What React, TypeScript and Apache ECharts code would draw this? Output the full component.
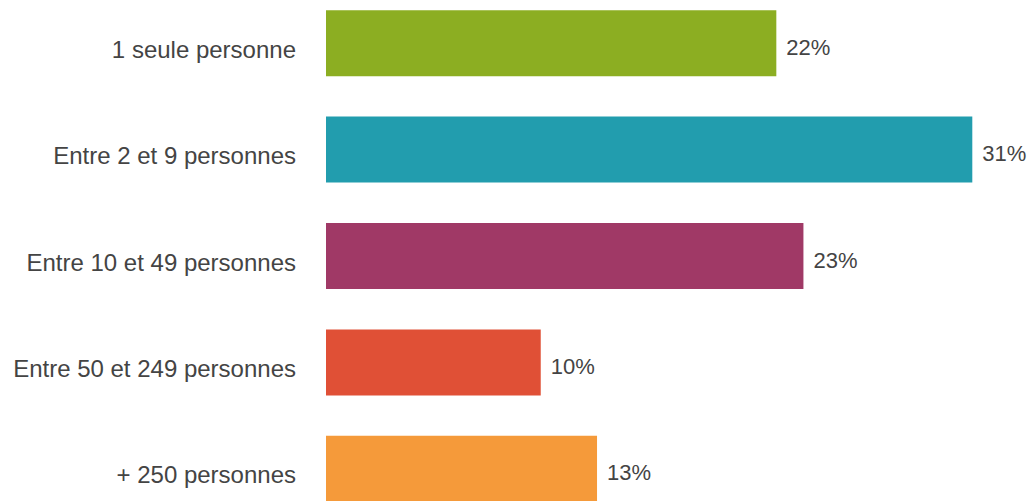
import React, { useEffect, useRef } from "react";
import * as echarts from "echarts";

const categories = [
  "1 seule personne",
  "Entre 2 et 9 personnes",
  "Entre 10 et 49 personnes",
  "Entre 50 et 249 personnes",
  "+ 250 personnes",
];
const values = [21.6, 31.0, 22.9, 10.3, 13.0];
const colors = ["#8cae22", "#229dae", "#a03966", "#e05036", "#f59a3a"];

const font = "Liberation Sans, Arial, sans-serif";

export default function App() {
  const ref = useRef<HTMLDivElement>(null);
  useEffect(() => {
    const chart = echarts.init(ref.current!, undefined, { renderer: "svg" });
    chart.setOption({
      animation: false,
      grid: { left: 326, width: 688, top: 0, height: 532, containLabel: false },
      xAxis: { type: "value", min: 0, max: 33, show: false },
      yAxis: {
        type: "category",
        data: categories,
        inverse: true,
        axisLine: { show: false },
        axisTick: { show: false },
        axisLabel: {
          margin: 30,
          formatter: (v: string) => "{a|" + v + "}",
          rich: {
            a: {
              fontSize: 24,
              color: "#444444",
              fontFamily: font,
              padding: [12, 0, 0, 0],
            },
          },
        },
      },
      series: [
        {
          type: "bar",
          barWidth: 66,
          data: values.map((v, i) => ({ value: v, itemStyle: { color: colors[i] } })),
          label: {
            show: true,
            position: "right",
            distance: 10,
            offset: [0, 4],
            fontSize: 22,
            color: "#444444",
            fontFamily: font,
            formatter: (p: any) => Math.round(p.value) + "%",
          },
        },
      ],
    });
    return () => chart.dispose();
  }, []);
  return (
    <div style={{ position: "fixed", left: 0, top: 0, width: 1030, height: 501, overflow: "hidden", background: "#fff" }}>
      <div
        ref={ref}
        style={{ position: "absolute", left: 0, top: -10, width: 1030, height: 532 }}
      />
    </div>
  );
}
